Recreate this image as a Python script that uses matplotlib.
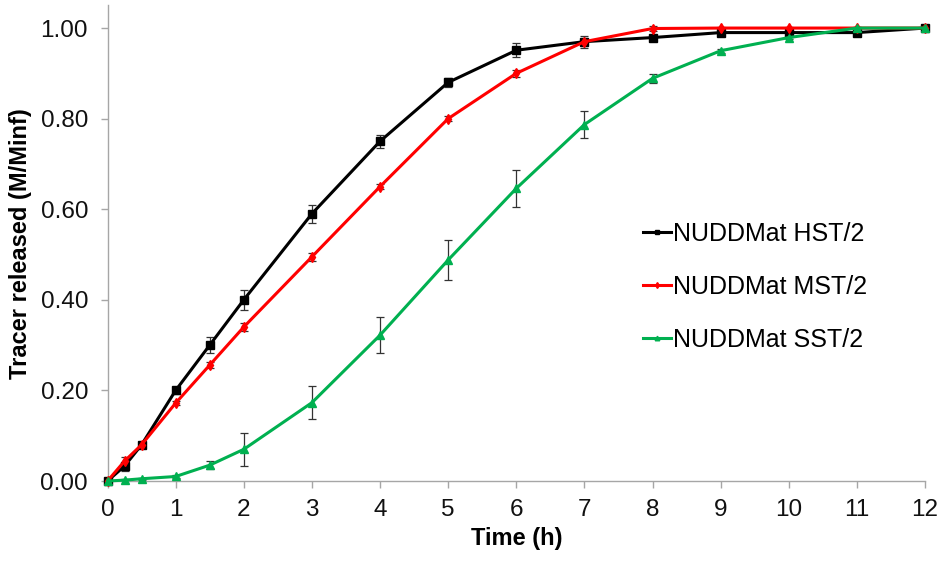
import matplotlib
matplotlib.use("Agg")
import matplotlib.pyplot as plt
import numpy as np

plt.rcParams['font.family'] = ['Liberation Sans', 'DejaVu Sans']

time_h = [0, 0.25, 0.5, 1, 1.5, 2, 3, 4, 5, 6, 7, 8, 9, 10, 11, 12]

hst = [0.0, 0.033, 0.08, 0.20, 0.30, 0.40, 0.59, 0.75, 0.88, 0.951, 0.97, 0.979, 0.99, 0.99, 0.99, 1.0]
hst_err = [0.004, 0.01, 0.005, 0.008, 0.018, 0.022, 0.02, 0.015, 0.01, 0.016, 0.013, 0.005, 0.004, 0.004, 0.004, 0.003]

mst = [0.0, 0.044, 0.08, 0.172, 0.256, 0.34, 0.495, 0.65, 0.80, 0.90, 0.97, 0.999, 1.0, 1.0, 1.0, 1.0]
mst_err = [0.003, 0.01, 0.004, 0.005, 0.007, 0.009, 0.009, 0.005, 0.005, 0.008, 0.006, 0.006, 0.003, 0.003, 0.003, 0.003]

sst = [0.0, 0.002, 0.005, 0.01, 0.035, 0.07, 0.173, 0.322, 0.488, 0.646, 0.787, 0.889, 0.95, 0.979, 1.0, 1.0]
sst_err = [0.002, 0.002, 0.002, 0.003, 0.009, 0.036, 0.036, 0.04, 0.044, 0.04, 0.03, 0.01, 0.004, 0.004, 0.003, 0.003]

labels = ['NUDDMat HST/2', 'NUDDMat MST/2', 'NUDDMat SST/2']
colors = ['#000000', '#FF0000', '#00B050']
markers = ['s', 'd', '^']
msizes = [5.2, 5, 5.5]

x_ticks = list(range(0, 13))
y_ticks = [0.0, 0.2, 0.4, 0.6, 0.8, 1.0]

fig = plt.figure(figsize=(9.43, 5.63), dpi=100)
ax = fig.add_axes([0.114, 0.1456, 0.867, 0.8448])

for vals, errs, lab, col, mk, ms in zip([hst, mst, sst], [hst_err, mst_err, sst_err],
                                         labels, colors, markers, msizes):
    ax.errorbar(time_h, vals, yerr=errs, fmt='none', ecolor='#333333',
                elinewidth=0.9, capsize=2.8, capthick=0.9, zorder=2, clip_on=False)
    ax.plot(time_h, vals, color=col, lw=2.2, marker=mk, markersize=ms,
            label=lab, zorder=3, clip_on=False)

ax.set_xlim(0, 12)
ax.set_ylim(0, 1.05)
ax.set_xticks(x_ticks)
ax.set_yticks(y_ticks)
ax.set_yticklabels([f"{v:.2f}" for v in y_ticks])

for s in ['top', 'right']:
    ax.spines[s].set_visible(False)
for s in ['left', 'bottom']:
    ax.spines[s].set_color('#A6A6A6')
    ax.spines[s].set_linewidth(1.0)

ax.tick_params(axis='both', which='major', direction='out', length=5,
               width=1.0, color='#A6A6A6', labelsize=17.5, labelcolor='#111111')
ax.tick_params(axis='y', pad=9)
ax.tick_params(axis='x', pad=8)

ax.set_xlabel('Time (h)', fontsize=17, fontweight='bold', labelpad=4)
ax.set_ylabel('Tracer released (M/Minf)', fontsize=17, fontweight='bold', labelpad=6)

leg = ax.legend(loc='upper left', bbox_to_anchor=(643 / 943, 1 - 222 / 563),
                bbox_transform=fig.transFigure, frameon=False, fontsize=18,
                borderpad=0, borderaxespad=0, handlelength=1.12,
                handletextpad=0.08, labelspacing=1.16, markerscale=0.6)

fig.savefig('out.png', dpi=100)
